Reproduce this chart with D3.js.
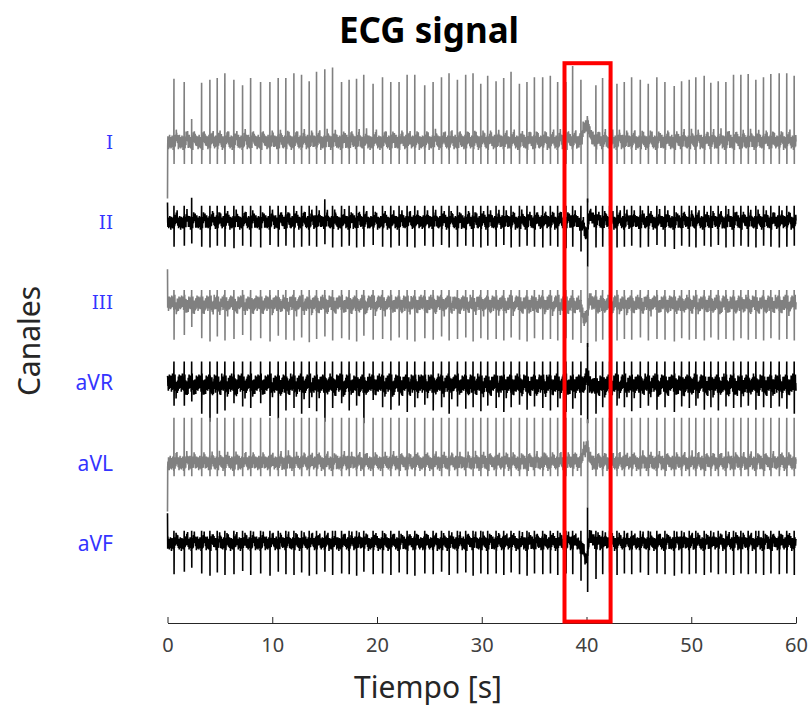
<!DOCTYPE html>
<html>
<head>
<meta charset="utf-8">
<script src="https://cdn.jsdelivr.net/npm/d3@7"></script>
<style>
  body { margin: 0; background: #ffffff; }
  svg { display: block; }
</style>
</head>
<body>
<svg id="chart" width="810" height="707"></svg>
<script>
// ---- data -----------------------------------------------------------
const channels = ["I", "II", "III", "aVR", "aVL", "aVF"];
const xTicks = [0, 10, 20, 30, 40, 50, 60];

// R-peak times (s)
const beatTimes = [
  0.62, 1.60, 2.31, 3.26, 4.05, 4.75, 5.48, 6.34, 7.17, 7.94,
  8.89, 9.78, 10.57, 11.30, 12.07, 12.80, 13.53, 14.23, 15.02, 15.76,
  16.62, 17.34, 18.05, 18.74, 19.63, 20.53, 21.32, 22.11, 22.88, 23.61,
  24.56, 25.36, 26.16, 26.88, 27.68, 28.47, 29.17, 29.91, 30.57, 31.37,
  32.10, 32.80, 33.60, 34.32, 35.03, 35.82, 36.55, 37.25, 38.04, 38.68,
  39.47, 40.90, 41.54, 42.21, 42.91, 43.61, 44.31, 45.14, 45.90, 46.72,
  47.49, 48.38, 49.08, 49.81, 50.44, 51.24, 51.87, 52.58, 53.31, 54.04,
  54.74, 55.44, 56.17, 56.90, 57.60, 58.40, 59.12, 59.83
];

// lead I: R amplitude per beat (mV)
const rLeadI = [
  0.79, 0.75, 0.29, 0.74, 0.78, 0.80, 0.86, 0.78, 0.71, 0.80,
  0.75, 0.75, 0.80, 0.80, 0.86, 0.84, 0.76, 0.88, 0.91, 0.93,
  0.75, 0.78, 0.79, 0.84, 0.73, 0.81, 0.75, 0.75, 0.84, 0.84,
  0.71, 0.75, 0.81, 0.86, 0.78, 0.84, 0.86, 0.73, 0.83, 0.76,
  0.80, 0.88, 0.73, 0.75, 0.81, 0.81, 0.83, 0.75, 0.75, 0.95,
  0.78, 0.71, 0.80, 0.78, 0.73, 0.75, 0.81, 0.78, 0.73, 0.81,
  0.75, 0.70, 0.76, 0.78, 0.81, 0.83, 0.74, 0.76, 0.75, 0.84,
  0.84, 0.85, 0.78, 0.81, 0.85, 0.86, 0.86, 0.83
];

// S depth per beat (mV)
const sLeadII = [
  0.30, 0.29, 0.26, 0.30, 0.31, 0.29, 0.30, 0.32, 0.29, 0.30,
  0.31, 0.28, 0.30, 0.29, 0.31, 0.30, 0.29, 0.30, 0.27, 0.31,
  0.30, 0.29, 0.31, 0.30, 0.28, 0.30, 0.31, 0.29, 0.30, 0.31,
  0.29, 0.30, 0.28, 0.31, 0.30, 0.29, 0.30, 0.31, 0.29, 0.30,
  0.28, 0.31, 0.30, 0.29, 0.30, 0.31, 0.29, 0.30, 0.32, 0.30,
  0.36, 0.31, 0.30, 0.29, 0.31, 0.30, 0.29, 0.31, 0.30, 0.28,
  0.30, 0.33, 0.29, 0.30, 0.31, 0.29, 0.30, 0.28, 0.31, 0.30,
  0.29, 0.30, 0.31, 0.29, 0.30, 0.31, 0.30, 0.29
];
const sLeadIII = [
  0.46, 0.40, 0.30, 0.44, 0.48, 0.42, 0.47, 0.45, 0.40, 0.47,
  0.44, 0.48, 0.41, 0.46, 0.47, 0.43, 0.49, 0.45, 0.42, 0.47,
  0.44, 0.46, 0.48, 0.41, 0.46, 0.45, 0.47, 0.43, 0.46, 0.48,
  0.44, 0.46, 0.42, 0.47, 0.45, 0.43, 0.48, 0.44, 0.46, 0.45,
  0.47, 0.43, 0.46, 0.48, 0.44, 0.46, 0.45, 0.47, 0.44, 0.46,
  0.50, 0.48, 0.46, 0.44, 0.47, 0.45, 0.46, 0.43, 0.47, 0.45,
  0.46, 0.48, 0.44, 0.46, 0.45, 0.47, 0.43, 0.46, 0.45, 0.47,
  0.44, 0.46, 0.45, 0.47, 0.44, 0.46, 0.45, 0.47
];
const sLeadAVR = [
  0.28, 0.28, 0.23, 0.38, 0.48, 0.38, 0.34, 0.25, 0.29, 0.31,
  0.25, 0.41, 0.44, 0.34, 0.31, 0.38, 0.31, 0.35, 0.48, 0.31,
  0.25, 0.34, 0.28, 0.50, 0.21, 0.30, 0.33, 0.28, 0.36, 0.30,
  0.27, 0.34, 0.30, 0.38, 0.29, 0.32, 0.30, 0.35, 0.28, 0.31,
  0.36, 0.30, 0.27, 0.33, 0.29, 0.31, 0.34, 0.30, 0.36, 0.32,
  0.40, 0.38, 0.30, 0.33, 0.28, 0.30, 0.35, 0.31, 0.28, 0.33,
  0.30, 0.36, 0.29, 0.31, 0.28, 0.33, 0.30, 0.34, 0.29, 0.31,
  0.30, 0.28, 0.33, 0.30, 0.31, 0.29, 0.32, 0.38
];
const sLeadAVF = [
  0.38, 0.35, 0.30, 0.37, 0.40, 0.36, 0.39, 0.38, 0.34, 0.39,
  0.37, 0.40, 0.35, 0.38, 0.39, 0.36, 0.40, 0.38, 0.35, 0.39,
  0.37, 0.38, 0.40, 0.35, 0.38, 0.37, 0.39, 0.36, 0.38, 0.40,
  0.37, 0.38, 0.35, 0.39, 0.37, 0.36, 0.40, 0.37, 0.38, 0.37,
  0.39, 0.36, 0.38, 0.40, 0.37, 0.38, 0.37, 0.39, 0.37, 0.38,
  0.46, 0.44, 0.38, 0.36, 0.39, 0.37, 0.38, 0.36, 0.39, 0.37,
  0.38, 0.40, 0.37, 0.38, 0.37, 0.39, 0.36, 0.38, 0.37, 0.39,
  0.37, 0.38, 0.37, 0.39, 0.37, 0.38, 0.37, 0.39
];

// typical R / S amplitudes of the remaining leads (mV)
const rTypical = [0, 0.21, 0.16, 0.27, 0.57, 0.16];
const sTypical = [0.27, 0, 0, 0, 0.16, 0];
// a few beats that stand out in lead II
const rLeadIIBeats = [2, 18];
const rLeadIIValues = [0.31, 0.29];

// baseline noise level and T-wave height per lead (mV)
const noiseAmp = [0.095, 0.09, 0.10, 0.12, 0.095, 0.09];
const tAmp = [0.08, 0.08, -0.07, -0.08, 0.07, 0.07];
// value of the first sample in each lead (mV)
const startLevel = [-0.70, 0.25, 0.42, 0.09, -0.60, 0.38];

// normalised baseline noise table
const noiseTable = [
  0.2, -0.5, 0.8, -0.3, 0.4, -0.9, 0.6, -0.1, 0.3, -0.7,
  1.0, -0.4, 0.1, -0.6, 0.5, -0.2, 0.7, -0.8, 0.3, -0.3,
  0.6, -0.5, 0.9, -0.6, 0.2, -0.4, 0.5, -1.0, 0.4, -0.2,
  0.8, -0.5, 0.3, -0.7, 0.6, -0.3, 0.1, -0.8, 0.7, -0.4,
  0.5, -0.6, 0.9, -0.2, 0.4, -0.5, 0.2
];
// T-wave profile, 0.04 s per step, starting 0.12 s after R
const tShape = [0.3, 0.6, 0.9, 1.0, 0.8, 0.5, 0.2];

// movement artefact around 40 s
const artefactTime = 40.1;
const artefactOffsets = [-0.9, -0.5, -0.2, 0, 0.2, 0.5, 0.9];
const artefactHump = [
  [0, 0.06, 0.18, 0.26, 0.12, 0.04, 0],
  [0, -0.05, -0.15, -0.10, 0.10, 0.05, 0],
  [0, -0.08, -0.20, -0.15, 0.05, 0, 0],
  [0, 0, 0.05, 0.10, 0, -0.05, 0],
  [0, 0.06, 0.16, 0.24, 0.08, 0, 0],
  [0, -0.08, -0.20, -0.15, 0.10, 0.05, 0]
];
const artefactSpikeUp = [0.30, 0.30, 0.45, 0.50, 0.55, 0.45];
const artefactSpikeDown = [-0.75, -0.55, -0.55, -0.50, -0.55, -0.60];

// highlighted window (s)
const windowStart = 37.9;
const windowEnd = 42.3;

// per-lead lookup built from the lists above
const rPerBeat = [rLeadI, null, null, null, null, null];
const sPerBeat = [null, sLeadII, sLeadIII, sLeadAVR, null, sLeadAVF];

// ---- layout ---------------------------------------------------------
const lineColors = ["#808080", "#000000", "#808080", "#000000", "#808080", "#000000"];
const svg = d3.select("#chart");
const x = d3.scaleLinear().domain([0, 60]).range([167.5, 796]);
const y = d3.scaleLinear().domain([0, 7]).range([624, 62]);
const fontSans = "'Noto Sans', 'Open Sans', sans-serif";

// ---- traces ---------------------------------------------------------
const step = 0.02;
const nSteps = Math.round(60 / step);

function buildLead(c) {
  const offset = 6 - c;
  const hump = d3.scaleLinear().domain(artefactOffsets).range(artefactHump[c]).clamp(true);
  const pts = [];
  for (let i = 0; i <= nSteps; i++) {
    const t = i * step;
    let v = noiseTable[(i + c * 11) % noiseTable.length] * noiseAmp[c];
    const k = d3.bisectRight(beatTimes, t) - 1;
    if (k >= 0) {
      const j = Math.floor((t - beatTimes[k] - 0.12) / 0.04);
      if (j >= 0 && j < tShape.length) v += tAmp[c] * tShape[j];
    }
    if (Math.abs(t - artefactTime) < 0.9) v += hump(t - artefactTime);
    pts.push([t, v]);
  }
  pts[0] = [0, startLevel[c]];
  beatTimes.forEach((b, k) => {
    let r = rPerBeat[c] ? rPerBeat[c][k] : rTypical[c];
    if (c === 1) {
      const o = rLeadIIBeats.indexOf(k);
      if (o >= 0) r = rLeadIIValues[o];
    }
    const s = sPerBeat[c] ? sPerBeat[c][k] : sTypical[c];
    pts.push([b - 0.004, r]);
    pts.push([b + 0.008, -s]);
  });
  pts.push([artefactTime, artefactSpikeUp[c]]);
  pts.push([artefactTime + 0.01, artefactSpikeDown[c]]);
  pts.sort((a, b) => a[0] - b[0]);
  return pts.map(p => [p[0], p[1] + offset]);
}

const line = d3.line().x(d => x(d[0])).y(d => y(d[1]));

svg.append("g").selectAll("path")
  .data(channels.map((name, c) => ({ name, c, pts: buildLead(c) })))
  .join("path")
  .attr("d", d => line(d.pts))
  .attr("fill", "none")
  .attr("stroke", d => lineColors[d.c])
  .attr("stroke-width", 1.6)
  .attr("stroke-linejoin", "bevel");

// ---- channel labels ------------------------------------------------
svg.append("g").selectAll("text")
  .data(channels)
  .join("text")
  .attr("x", 113)
  .attr("y", (d, c) => y(6 - c))
  .attr("dy", "0.35em")
  .attr("text-anchor", "end")
  .attr("fill", "#3434ff")
  .style("font-family", d => d.startsWith("a") ? fontSans : "'DejaVu Serif', serif")
  .style("font-size", d => d.startsWith("a") ? "21px" : "18px")
  .text(d => d);

// ---- x axis ----------------------------------------------------------
const axis = d3.axisBottom(x).tickValues(xTicks).tickSize(-6).tickSizeOuter(0).tickPadding(15);
const gx = svg.append("g").attr("transform", `translate(0,${y(0) - 1})`).call(axis);
gx.select(".domain").attr("stroke", "#262626");
gx.selectAll(".tick line").attr("stroke", "#262626");
gx.selectAll(".tick text")
  .attr("fill", "#404040")
  .style("font-family", fontSans)
  .style("font-size", "20px");

// ---- highlighted window --------------------------------------------
svg.append("rect")
  .attr("x", x(windowStart))
  .attr("y", y(6.985))
  .attr("width", x(windowEnd) - x(windowStart))
  .attr("height", y(0.03) - y(6.985))
  .attr("fill", "none")
  .attr("stroke", "#ff0000")
  .attr("stroke-width", 4);

// ---- titles ----------------------------------------------------------
svg.append("text")
  .attr("x", 429).attr("y", 43)
  .attr("text-anchor", "middle")
  .attr("fill", "#000")
  .style("font-family", fontSans)
  .style("font-weight", "bold")
  .style("font-size", "35px")
  .text("ECG signal");

svg.append("text")
  .attr("x", 428).attr("y", 698)
  .attr("text-anchor", "middle")
  .attr("fill", "#262626")
  .style("font-family", fontSans)
  .style("font-size", "30px")
  .text("Tiempo [s]");

svg.append("text")
  .attr("transform", "translate(40,341) rotate(-90)")
  .attr("text-anchor", "middle")
  .attr("fill", "#262626")
  .style("font-family", fontSans)
  .style("font-size", "30px")
  .text("Canales");
</script>
</body>
</html>
